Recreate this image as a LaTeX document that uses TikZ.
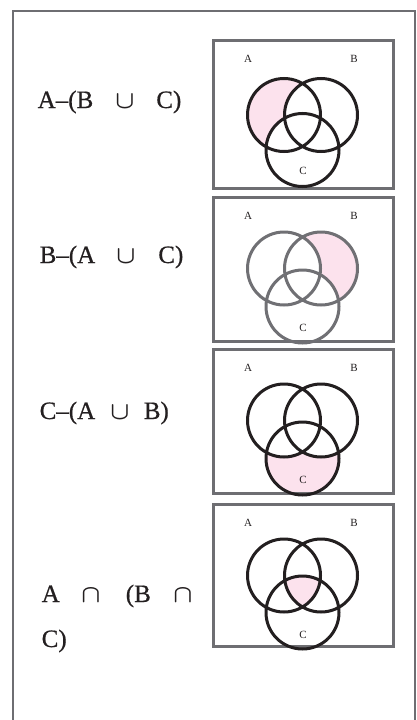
\documentclass[tikz,border=0pt]{standalone}
\usepackage{fontspec}
\setmainfont{Liberation Serif}
\newfontfamily\exprfont[FakeBold=0.6]{Liberation Serif}
\usepackage{tikz}
\usetikzlibrary{positioning}
\definecolor{framegray}{RGB}{110,110,114}
\definecolor{setpink}{RGB}{252,226,237}
\definecolor{setblack}{RGB}{35,31,32}
\definecolor{setgray}{RGB}{112,112,116}
\tikzset{
	outerframe/.style={
			draw=framegray,
			line width=2pt
		},
	panelbox/.style={
			draw=framegray,
			line width=3pt
		},
	vennset/.style={
			draw=setblack,
			line width=3pt
		},
	setlabel/.style={
			font=\fontsize{11}{13}\selectfont,
			text=setblack,
			inner sep=0pt
		},
	exprnode/.style={
			font=\exprfont\fontsize{25}{30}\selectfont\boldmath,
			text=setblack,
			anchor=base west,
			inner sep=0pt
		}
}

\begin{document}
\begin{tikzpicture}[x=1pt, y=-1pt]
				\useasboundingbox (0,0) rectangle (417,720);
				\clip (0,0) rectangle (417,720);
				\draw[outerframe] (13,730) |- (415,11) -- (415,730);
				\foreach \i/\ay/\cy in {1/115/150, 2/268.5/306.5, 3/420.5/458.5, 4/575.5/612.5}{
					\coordinate (a\i) at (284,\ay);
					\coordinate (b\i) at (321,\ay);
					\coordinate (c\i) at (302.5,\cy);
				}
				\fill[setpink] (a1) circle (36.5);
				\fill[white] (b1) circle (36.5) (c1) circle (36.5);
				\fill[setpink] (b2) circle (36.5);
				\fill[white] (a2) circle (36.5) (c2) circle (36.5);
				\fill[setpink] (c3) circle (36.5);
				\fill[white] (a3) circle (36.5) (b3) circle (36.5);
				\begin{scope}
					\clip (a4) circle (36.5);
					\clip (b4) circle (36.5);
					\fill[setpink] (c4) circle (36.5);
				\end{scope}
				\foreach \i/\ptop/\pbot/\col in {1/40/188/setblack, 2/197/341/setgray, 3/349/493/setblack, 4/504/646/setblack}{
					\draw[panelbox] (213,\ptop) rectangle (393,\pbot);
					\draw[vennset, draw=\col] (a\i) circle (36.5) (b\i) circle (36.5) (c\i) circle (36.5);
					\node[setlabel] at (248,{\ptop+19}) (la\i) {A};
					\node[setlabel] at (354,{\ptop+19}) (lb\i) {B};
					\node[setlabel] at (303,{\ptop+131}) (lc\i) {C};
				}
				\node[exprnode] at (37.5,108) (ex1) {A–(B\hspace{22pt}$\cup$\hspace{22pt}C)};
				\node[exprnode] at (39.5,263) (ex2) {B–(A\hspace{21pt}$\cup$\hspace{23pt}C)};
				\node[exprnode] at (39.5,419) (ex3) {C–(A\hspace{15pt}$\cup$\hspace{14.5pt}B)};
				\node[exprnode] at (41.5,602) (ex4) {A\hspace{21.5pt}$\cap$\hspace{25.5pt}(B\hspace{22.5pt}$\cap$};
				\node[exprnode] at (41.5,647) (ex4b) {C)};
			\end{tikzpicture}
\end{document}
